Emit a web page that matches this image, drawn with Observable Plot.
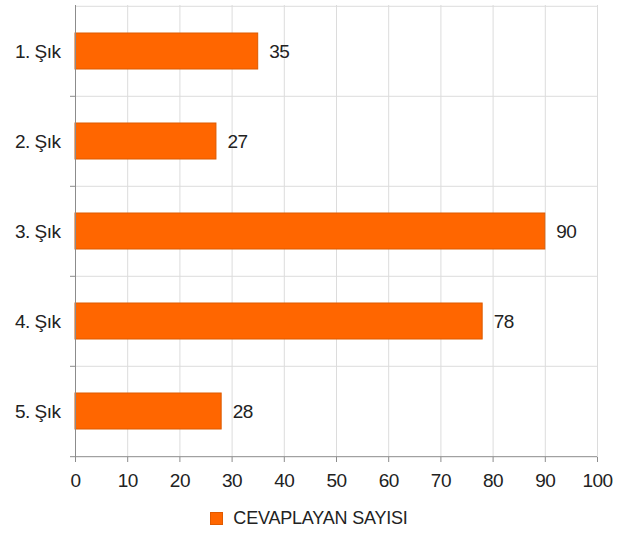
<!DOCTYPE html>
<html><head><meta charset="utf-8">
<script src="https://cdn.jsdelivr.net/npm/d3@7"></script>
<script src="https://cdn.jsdelivr.net/npm/@observablehq/plot@0.6"></script>
<style>
body{margin:0;background:#fff;font-family:"Liberation Sans",Arial,sans-serif;}
#legend{display:flex;justify-content:center;align-items:center;height:30px;margin-top:3px;font-size:18px;color:#222;letter-spacing:-0.2px;}
#legend .sw{width:13px;height:13px;background:#ff6600;border:1px solid #e05a00;box-sizing:border-box;margin-right:10px;}
</style></head>
<body>
<div id="chart"></div>
<div id="legend"><span class="sw"></span><span>CEVAPLAYAN SAYISI</span></div>
<script>
const categories = ["1. Şık","2. Şık","3. Şık","4. Şık","5. Şık"];
const values = [35, 27, 90, 78, 28];
const xTicks = [0,10,20,30,40,50,60,70,80,90,100];
const seriesName = "CEVAPLAYAN SAYISI";

const data = categories.map((c,i)=>({cat:c, v:values[i]}));
const W = 618, H = 500, mT = 5, mB = 43, mL = 75, mR = 21;
const step = (H - mT - mB) / categories.length;
const font = {fontSize: 19, fill: "#222"};

const chart = Plot.plot({
  width: W, height: H,
  marginTop: mT, marginBottom: mB, marginLeft: mL, marginRight: mR,
  style: {fontFamily: '"Liberation Sans", Arial, sans-serif', fontSize: "19px", background: "#fff", letterSpacing: "-0.5px"},
  x: {domain: [0,100], axis: null, label: null},
  y: {domain: categories, paddingInner: 0.6, paddingOuter: 0.3, axis: null, label: null},
  marks: [
    Plot.ruleX(xTicks.slice(1), {stroke: "#dcdcdc", strokeWidth: 1}),
    Plot.ruleY(categories, {y: d=>d, dy: -step/2, x1: 0, x2: 100, stroke: "#dcdcdc"}),
    Plot.barX(data, {y: "cat", x: "v", fill: "#ff6600", stroke: "#dd5a00", strokeWidth: 1}),
    Plot.text(data, {y: "cat", x: "v", text: d=>String(d.v), textAnchor: "start", dx: 11, ...font}),
    Plot.ruleX([0], {stroke: "#8c8c8c"}),
    Plot.ruleY([categories[categories.length-1]], {y: d=>d, dy: step/2, x1: 0, x2: 100, insetLeft: -5, stroke: "#8c8c8c"}),
    Plot.axisY(categories.slice(1), {tickSize: 5, text: null, dy: -step/2, stroke: "#8c8c8c", label: null}),
    Plot.axisY({tickSize: 0, tickPadding: 15, fontSize: 19, fill: "#222", label: null}),
    Plot.axisX(xTicks, {tickSize: 5, tickPadding: 11, fontSize: 19, fill: "#222", stroke: "#8c8c8c", label: null})
  ]
});
document.getElementById("chart").appendChild(chart);
</script>
</body></html>
